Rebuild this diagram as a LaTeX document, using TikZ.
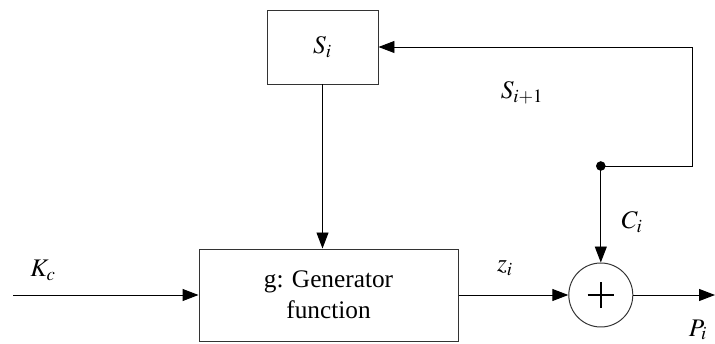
\documentclass[tikz,border=0pt]{standalone}
\usepackage{mathptmx}
\usepackage{fontspec}
\setmainfont{Liberation Serif}
\usetikzlibrary{arrows.meta}
\begin{document}
\begin{tikzpicture}[>={Triangle[length=0.4cm,width=0.3cm]}, line width=0.7pt,
    every node/.style={font=\fontsize{18}{22}\selectfont},
    block/.style={draw=black!80, rectangle, align=center},
    sum/.style={draw=black!80, circle, minimum size=1.6cm, inner sep=0pt}]
    \useasboundingbox (0,0) rectangle (17.875,8.575);
    % blocks
    \node[block, minimum width=2.775cm, minimum height=1.85cm] (si) at (8.0625,7.4) {$S_i$};
    \node[block, minimum width=6.475cm, minimum height=2.3cm] (gen) at (8.2125,1.2) {g: Generator\\function};
    \node[sum] (add) at (15.02,1.2) {};
    \draw[line width=1.2pt] ([xshift=-0.33cm]add.center) -- ([xshift=0.33cm]add.center);
    \draw[line width=1.2pt] ([yshift=-0.33cm]add.center) -- ([yshift=0.33cm]add.center);
    % points
    \coordinate (kin) at (0.325,1.2);
    \coordinate (pout) at (17.875,1.2);
    \coordinate (tap) at (15.02,4.425);
    \coordinate (cr) at (17.3,4.425);
    \coordinate (ct) at (17.3,7.4);
    \fill (tap) circle (0.12cm);
    % connectors
    \draw[->] (kin) -- (gen.west);
    \draw[->] (si.south) -- (si.south |- gen.north);
    \draw[->] (gen.east) -- (add.west);
    \draw[->] (add.east) -- (pout);
    \draw[->] (tap) -- (add.north);
    \draw[->] (tap) -- (cr) -- (ct) -- (si.east);
    % labels
    \node (kc) at (1.075,1.825) {$K_c$};
    \node (zi) at (12.625,1.875) {$z_i$};
    \node (ci) at (15.8,3.025) {$C_i$};
    \node (pi) at (17.45,0.33) {$P_i$};
    \node (snext) at (13.05,6.25) {$S_{i+1}$};
\end{tikzpicture}
\end{document}
